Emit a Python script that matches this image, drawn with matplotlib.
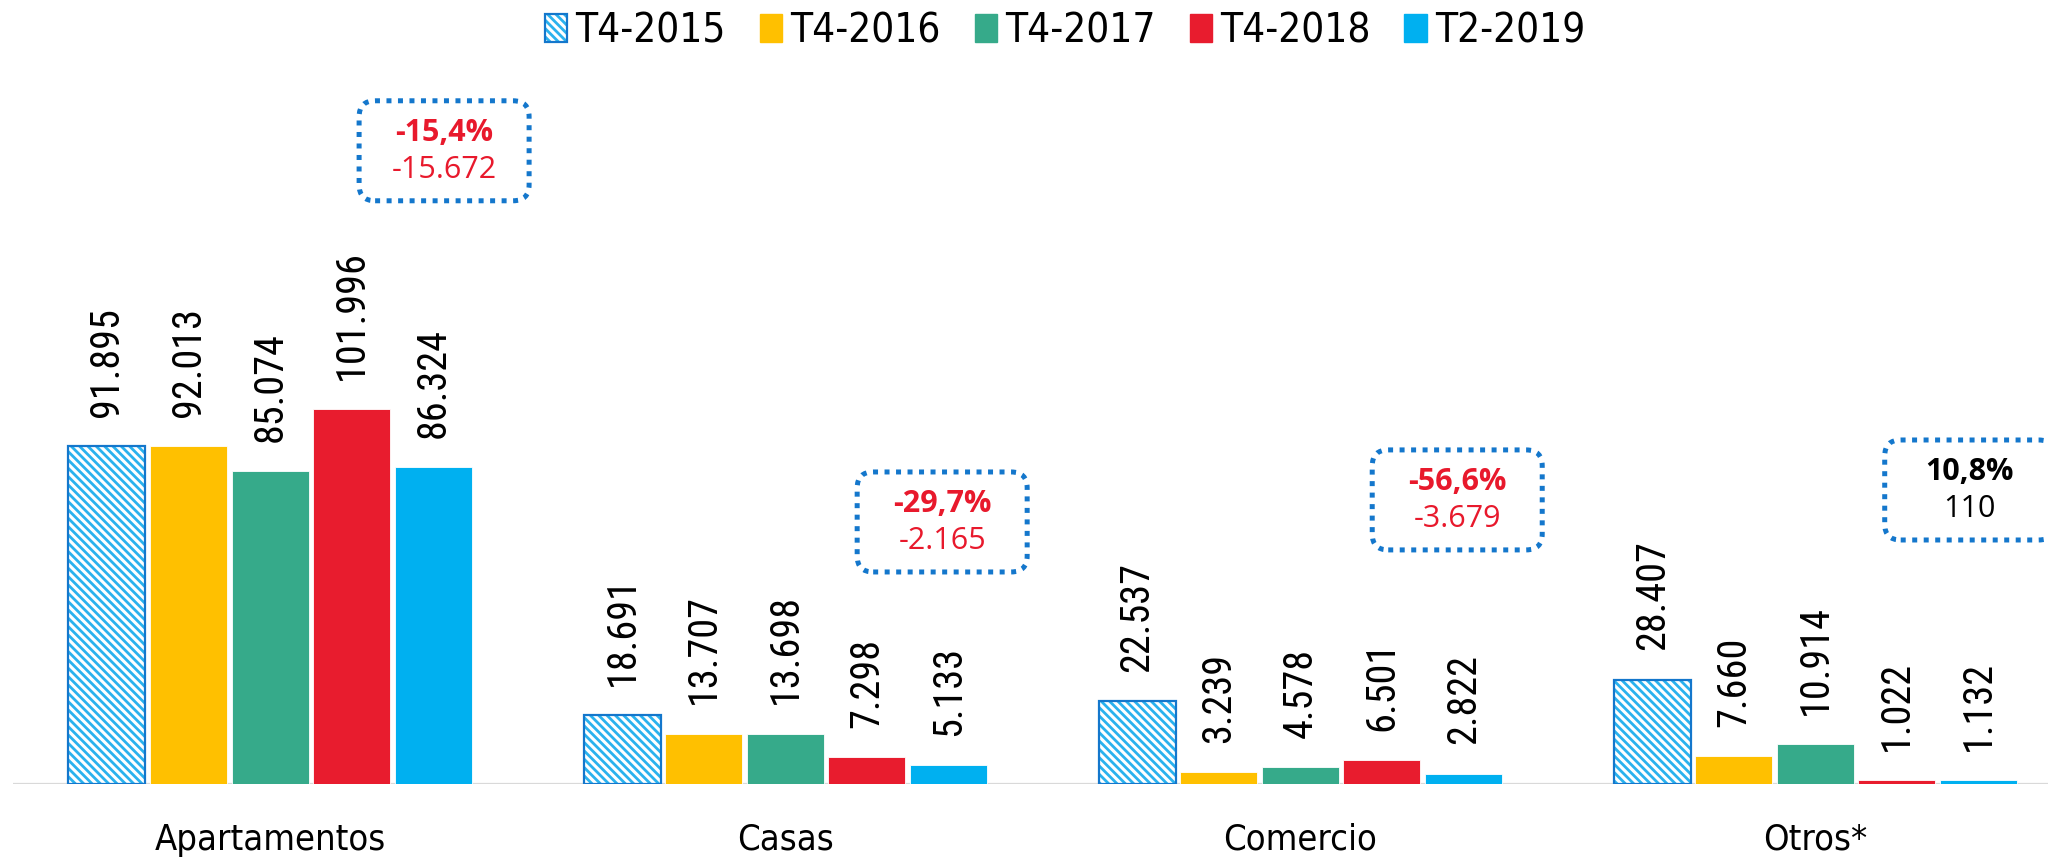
import matplotlib
matplotlib.use("Agg")
import matplotlib.pyplot as plt
import matplotlib.transforms as mtransforms
from matplotlib.patches import Patch, FancyBboxPatch
from matplotlib.legend_handler import HandlerTuple
import numpy as np

plt.rcParams['font.family'] = ['DejaVu Sans']
plt.rcParams['font.stretch'] = 'condensed'
plt.rcParams['hatch.linewidth'] = 2.0

categories = ["Apartamentos", "Casas", "Comercio", "Otros*"]
series = ["T4-2015", "T4-2016", "T4-2017", "T4-2018", "T2-2019"]
t4_2015 = [91895, 18691, 22537, 28407]
t4_2016 = [92013, 13707, 3239, 7660]
t4_2017 = [85074, 13698, 4578, 10914]
t4_2018 = [101996, 7298, 6501, 1022]
t2_2019 = [86324, 5133, 2822, 1132]

colors = ["#FFFFFF", "#FFC000", "#36AA8A", "#E81C2E", "#00B0F0"]
hatch_color = "#2AB2EE"
hatch_edge = "#1477CC"
box_color = "#1477CC"
red_txt = "#E8192C"

# where the variation boxes sit (data coords)
box_x = [0.338, 1.305, 2.305, 3.30]
box_y = [172300, 71300, 77300, 80000]


def fmt_num(v):
    return f"{v:,}".replace(",", ".")


fig = plt.figure(figsize=(20.48, 8.61), dpi=100)
ax = fig.add_axes([13 / 2048, 77 / 861, 1 - 13 / 2048, (784 - 60) / 861])

values = [t4_2015, t4_2016, t4_2017, t4_2018, t2_2019]
x = np.arange(len(categories))
step = 0.1583
width = 0.1495
hatch = "\\\\\\\\"

for j, vals in enumerate(values):
    xs = x + (j - 2) * step
    if j == 0:
        ax.bar(xs, vals, width, facecolor="white", edgecolor=hatch_color,
               hatch=hatch, linewidth=0, zorder=2)
        ax.bar(xs, vals, width, fill=False, edgecolor=hatch_edge,
               linewidth=1.6, zorder=3)
    else:
        ax.bar(xs, vals, width, color=colors[j], edgecolor="white",
               linewidth=0.6, zorder=2)
    for xi, v in zip(xs, vals):
        ax.annotate(fmt_num(v), (xi, v), xytext=(0, 21), textcoords="offset points",
                    rotation=90, rotation_mode="anchor", ha="left", va="center",
                    fontsize=29, color="black", family=["Roboto Condensed", "DejaVu Sans"])

ax.axhline(0, color="#D9D9D9", lw=1.6, zorder=1)
ax.set_xlim(-0.499, 3.452)
ax.set_ylim(0, 197000)
ax.set_xticks(x)
ax.set_xticklabels(categories, fontsize=26)
ax.tick_params(axis="x", length=0, pad=28)
ax.set_yticks([])
for s in ax.spines.values():
    s.set_visible(False)

# variation boxes: T2-2019 vs T4-2018
for i in range(len(categories)):
    diff = t2_2019[i] - t4_2018[i]
    pct = diff / t4_2018[i] * 100
    tc = red_txt if diff < 0 else "black"
    tr = fig.dpi_scale_trans + mtransforms.ScaledTranslation(box_x[i], box_y[i], ax.transData)
    box = FancyBboxPatch((-0.85, -0.5), 1.7, 1.0,
                         boxstyle="round,pad=0,rounding_size=0.16",
                         transform=tr, facecolor="white", edgecolor=box_color,
                         linewidth=3.6, linestyle=(0, (1, 1.3)), clip_on=False, zorder=4)
    ax.add_artist(box)
    ax.annotate(f"{pct:.1f}%".replace(".", ","), (box_x[i], box_y[i]),
                xytext=(0, 13), textcoords="offset points", ha="center", va="center",
                fontsize=22, fontweight="bold", color=tc, family="Open Sans",
                fontstretch="normal", zorder=5, annotation_clip=False)
    ax.annotate(fmt_num(diff), (box_x[i], box_y[i]),
                xytext=(0, -14), textcoords="offset points", ha="center", va="center",
                fontsize=22, color=tc, family="Open Sans", fontstretch="normal",
                zorder=5, annotation_clip=False)

hatch_handle = (Patch(facecolor="white", edgecolor=hatch_color, hatch=hatch, linewidth=0),
                Patch(fill=False, edgecolor=hatch_edge, linewidth=1.6))
handles = [hatch_handle] + [Patch(color=c) for c in colors[1:]]
fig.legend(handles, series, loc="upper center", bbox_to_anchor=(0.52, 1.015), ncol=5,
           frameon=False, fontsize=29, handlelength=0.55, handleheight=0.7,
           handletextpad=0.2, columnspacing=0.85, borderpad=0.1,
           handler_map={tuple: HandlerTuple(ndivide=1)})

fig.savefig("out.png", dpi=100)
